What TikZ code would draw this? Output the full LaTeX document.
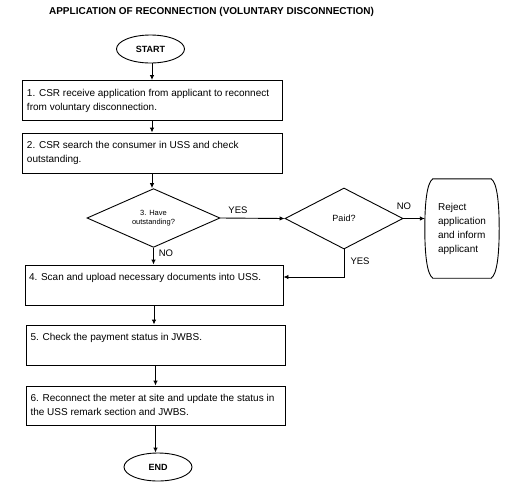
\documentclass[tikz,border=0pt]{standalone}
\usepackage{fontspec}
\setmainfont{Liberation Sans}
\usetikzlibrary{shapes.geometric,arrows.meta,positioning}

\newcommand{\steptext}[1]{\parbox[c][28pt][t]{250pt}{\raggedright\strut #1}}

\tikzset{
	stepbox/.style = {draw, line width = 0.9pt, minimum width = 260pt, minimum height = 40pt, inner sep = 0pt, font = \fontsize{10}{14}\selectfont},
	terminal/.style = {draw, ellipse, line width = 0.9pt, minimum width = 68pt, minimum height = 28pt, inner sep = 0pt, font = \bfseries\fontsize{9}{11}\selectfont},
	decision/.style = {draw, diamond, line width = 0.9pt, inner sep = 0pt, align = center},
	flow/.style = {line width = 0.9pt, -{Latex[length = 5pt, width = 4.5pt]}},
	answer/.style = {inner sep = 0pt, font = \fontsize{9.5}{11}\selectfont}
}

\begin{document}
\begin{tikzpicture}[x = 1pt, y = 1pt]

	\useasboundingbox (0,0) rectangle (519,-496);

	\node[inner sep = 0pt, font = \bfseries\fontsize{10}{12}\selectfont] (title) at (211.5,-12) {APPLICATION OF RECONNECTION (VOLUNTARY DISCONNECTION)};

	\node[terminal] (start) at (150.5,-49) {START};
	\node[stepbox] (s1) at (152,-100.5) {\steptext{1. CSR receive application from applicant to reconnect\\from voluntary disconnection.}};
	\node[stepbox] (s2) at (152,-153) {\steptext{2. CSR search the consumer in USS and check\\outstanding.}};
	\node[decision, minimum width = 133pt, minimum height = 56pt, font = \fontsize{7.5}{9}\selectfont] (d3) at (153.5,-218) {3. Have\\outstanding?};
	\node[decision, minimum width = 118pt, minimum height = 61pt, font = \fontsize{9}{11}\selectfont] (paid) at (344,-218.5) {Paid?};
	\node[inner sep = 0pt, minimum width = 74pt, minimum height = 99pt, align = left, font = \fontsize{10}{14}\selectfont] (rej) at (462,-228.5) {Reject\\application\\and inform\\applicant};
	\node[stepbox, minimum width = 258pt] (s4) at (154,-285) {\steptext{4. Scan and upload necessary documents into USS.}};
	\node[stepbox, minimum width = 259pt] (s5) at (155.5,-345) {\steptext{5. Check the payment status in JWBS.}};
	\node[stepbox, minimum width = 259pt, minimum height = 39pt] (s6) at (155.5,-405.5) {\steptext{6. Reconnect the meter at site and update the status in\\the USS remark section and JWBS.}};
	\node[terminal] (fin) at (158,-467) {END};

	\draw[line width = 0.9pt] ([xshift = 8pt]rej.north west) -- ([xshift = -8pt]rej.north east)
		.. controls +(6,-4) and +(0,25) .. (rej.east)
		.. controls +(0,-25) and +(6,4) .. ([xshift = -8pt]rej.south east)
		-- ([xshift = 8pt]rej.south west)
		.. controls +(-6,4) and +(0,-25) .. (rej.west)
		.. controls +(0,25) and +(-6,-4) .. ([xshift = 8pt]rej.north west) -- cycle;

	\node[answer] (yes1) at (238,-210) {YES};
	\node[answer] (no1) at (166,-253) {NO};
	\node[answer] (yes2) at (360,-261) {YES};
	\node[answer] (no2) at (404,-206) {NO};

	\draw[flow] (s1.north |- start.south) -- (s1.north);
	\draw[flow] (s1.south) -- (s2.north);
	\draw[flow] (s2.south) -- (s2.south |- d3.north);
	\draw[flow] (d3.south) -- (d3.south |- s4.north);
	\draw[flow] (d3.east) -- (paid.west);
	\draw[flow] (paid.east) -- (paid.east -| rej.west);
	\draw[flow] (paid.south) |- ([yshift = 8pt]s4.east);
	\draw[flow] (s4.south) -- (s4.south |- s5.north);
	\draw[flow] (s5.south) -- (s5.south |- s6.north);
	\draw[flow] (s6.south) -- (s6.south |- fin.north);

\end{tikzpicture}
\end{document}
